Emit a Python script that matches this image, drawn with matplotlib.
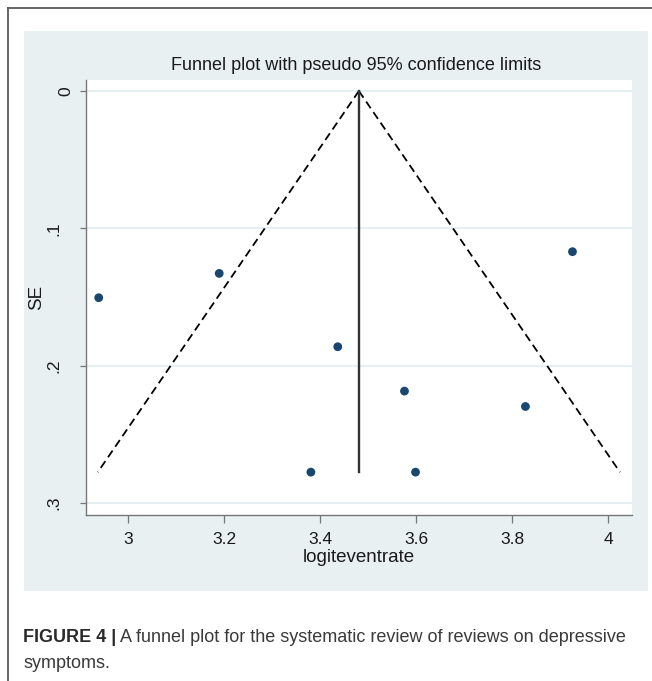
import matplotlib
matplotlib.use("Agg")
import matplotlib.pyplot as plt
from matplotlib.patches import Rectangle
from matplotlib.lines import Line2D
from matplotlib.transforms import ScaledTranslation
import numpy as np

plt.rcParams['font.family'] = ['Liberation Sans', 'DejaVu Sans']

# ---- data ----
logit_event_rate = [2.939, 3.190, 3.437, 3.576, 3.828, 3.381, 3.599, 3.926]
se_values = [0.1505, 0.1328, 0.1862, 0.2185, 0.2297, 0.2775, 0.2775, 0.1170]
pooled_estimate = 3.481
x_ticks = [3, 3.2, 3.4, 3.6, 3.8, 4]
x_tick_labels = ["3", "3.2", "3.4", "3.6", "3.8", "4"]
y_ticks = [0, 0.1, 0.2, 0.3]
y_tick_labels = ["0", ".1", ".2", ".3"]
title_text = "Funnel plot with pseudo 95% confidence limits"
x_label = "logiteventrate"
y_label = "SE"

W, H = 652, 681
fig = plt.figure(figsize=(W / 100, H / 100), dpi=100)
fig.patch.set_facecolor("white")

# outer frame (top and left)
fig.add_artist(Line2D([8 / W, 1], [1 - 8 / H, 1 - 8 / H], transform=fig.transFigure,
                      color="#5a5a5a", lw=1.3))
fig.add_artist(Line2D([8 / W, 8 / W], [0, 1 - 8 / H], transform=fig.transFigure,
                      color="#5a5a5a", lw=1.3))

# graph region background
fig.add_artist(Rectangle((24 / W, 1 - 591 / H), 624 / W, 560 / H, transform=fig.transFigure,
                         facecolor="#e8f0f2", edgecolor="none", zorder=0))

ax = fig.add_axes([86 / W, 1 - 515 / H, 546 / W, 435 / H])
ax.set_facecolor("white")

# grid lines
for yv in y_ticks:
    ax.axhline(yv, color="#e6eff1", lw=1.5, zorder=1)

# pseudo 95% confidence limits
se_line = np.array([0.0, max(se_values)])
ax.plot(pooled_estimate - 1.96 * se_line, se_line, color="black", lw=1.3,
        dashes=(4.5, 2.6), zorder=2)
ax.plot(pooled_estimate + 1.96 * se_line, se_line, color="black", lw=1.3,
        dashes=(4.5, 2.6), zorder=2)
ax.plot([pooled_estimate, pooled_estimate], [0, max(se_values)], color="#333333", lw=1.7, zorder=2)

ax.scatter(logit_event_rate, se_values, s=40, color="#1a476f", edgecolors="none", zorder=3)

ax.set_xlim(2.9125, 4.05)
ax.set_ylim(0.3087, -0.008)

ax.set_xticks(x_ticks)
ax.set_xticklabels(x_tick_labels, fontsize=12.5, color="#1a1a1a")
ax.set_yticks(y_ticks)
ax.set_yticklabels(y_tick_labels, fontsize=12.5, color="#1a1a1a", rotation=90, va="center")

ax.tick_params(axis="x", length=5.5, width=0.9, color="#777777", pad=6.5)
ax.tick_params(axis="y", length=4.5, width=0.9, color="#777777", pad=13)

for lbl in ax.get_yticklabels():
    if lbl.get_text() == "0":
        lbl.set_transform(lbl.get_transform() + ScaledTranslation(12 / 100, 0, fig.dpi_scale_trans))

for s in ["top", "right"]:
    ax.spines[s].set_visible(False)
for s in ["left", "bottom"]:
    ax.spines[s].set_color("#777777")
    ax.spines[s].set_linewidth(1.0)

ax.set_xlabel(x_label, fontsize=13.5, color="#1a1a1a", va="center")
ax.xaxis.set_label_coords(0.5, (515 - 557) / 435)
ax.set_ylabel(y_label, fontsize=13.5, color="#1a1a1a", va="center")
ax.yaxis.set_label_coords((37 - 86) / 546, 0.5)

fig.text(356.5 / W, 1 - 65 / H, title_text, fontsize=13, color="#1a1a1a",
         ha="center", va="center")

# caption
t1 = fig.text(23 / W, 1 - 637 / H, "FIGURE 4 |", fontsize=13, fontweight="bold",
              color="#2a2a2a", ha="left", va="center")
ax.annotate(" A funnel plot for the systematic review of reviews on depressive",
            xy=(1, 0), xycoords=t1, ha="left", va="bottom", fontsize=13, color="#3a3a3a",
            annotation_clip=False)
fig.text(23 / W, 1 - 663 / H, "symptoms.", fontsize=13, color="#3a3a3a",
         ha="left", va="center")

fig.savefig("out.png", dpi=100)
